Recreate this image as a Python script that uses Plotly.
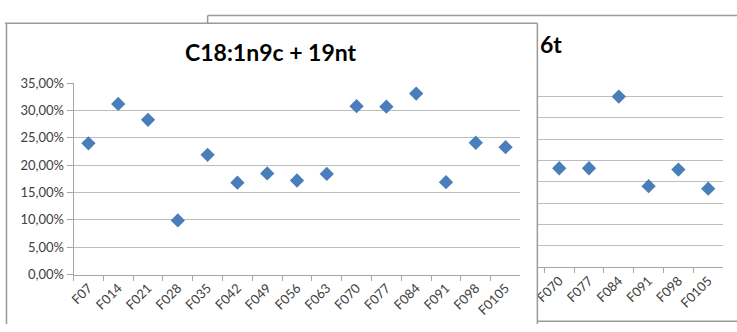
import plotly.graph_objects as go

W, H = 737, 332

categories = ["F07", "F014", "F021", "F028", "F035", "F042", "F049", "F056",
              "F063", "F070", "F077", "F084", "F091", "F098", "F0105"]
front_values = [0.240, 0.312, 0.283, 0.099, 0.219, 0.168, 0.185, 0.172,
                0.184, 0.308, 0.307, 0.331, 0.169, 0.241, 0.233]
front_title = "C18:1n9c + 19nt"

back_categories = ["F070", "F077", "F084", "F091", "F098", "F0105"]
back_values = [0.0232, 0.0232, 0.0400, 0.0190, 0.0229, 0.0184]
back_title = "6t"

def px(x):
    return x / W

def py(y):
    return 1 - y / H

marker = dict(symbol="diamond", size=11, color="#4a7ebb")
font_family = "Lato, Carlito, Calibri, sans-serif"

fig = go.Figure()
fig.add_trace(go.Scatter(x=categories, y=front_values, mode="markers",
                         marker=marker, xaxis="x", yaxis="y", showlegend=False))
fig.add_trace(go.Scatter(x=back_categories, y=back_values, mode="markers",
                         marker=marker, xaxis="x2", yaxis="y2", showlegend=False))

grid = "#bdbdbd"
axis_line = "#a6a6a6"
tickfont = dict(family=font_family, size=13, color="#404040")

fig.update_layout(
    width=W, height=H,
    margin=dict(l=0, r=0, t=0, b=0),
    paper_bgcolor="white", plot_bgcolor="white",
    separators=", ",
    xaxis=dict(domain=[px(69), px(519)], anchor="y", type="category",
               categoryorder="array", categoryarray=categories,
               range=[-0.5, 14.5], tickson="boundaries", ticks="outside",
               ticklen=5, tickcolor=axis_line, showline=True, linecolor=axis_line,
               showgrid=False, tickangle=-45, tickfont=tickfont, fixedrange=True),
    yaxis=dict(domain=[py(280), py(79)], anchor="x", range=[0, 0.35],
               dtick=0.05, tickformat=".2%", ticks="outside", ticklen=6,
               tickcolor=axis_line, showline=True, linecolor=axis_line,
               gridcolor=grid, gridwidth=1, zeroline=False,
               tickfont=tickfont, fixedrange=True),
    xaxis2=dict(domain=[px(537), px(723)], anchor="y2", type="category",
                categoryorder="array", categoryarray=categories,
                range=[8.3, 14.5], tickson="boundaries", ticks="outside",
                ticklen=5, tickcolor=axis_line, showline=True, linecolor=axis_line,
                showgrid=False, tickangle=-45, tickfont=tickfont, fixedrange=True),
    yaxis2=dict(domain=[py(272.3), py(70.7)], anchor="x2", range=[0, 0.045],
                dtick=0.005, showticklabels=False, ticks="",
                showline=False, gridcolor=grid, gridwidth=1, zeroline=False,
                fixedrange=True),
)

border = dict(color="#9a9a9a", width=1.5)
lines = [
    (0, 16, 536, 16),
    (1.5, 16, 1.5, 332),
    (536, 16, 536, 332),
    (204, 8, 737, 8),
    (204, 8, 204, 16),
    (536, 329, 737, 329),
]
for x0, y0, x1, y1 in lines:
    fig.add_shape(type="line", xref="paper", yref="paper",
                  x0=px(x0), y0=py(y0), x1=px(x1), y1=py(y1), line=border)

fig.add_annotation(text=front_title, xref="paper", yref="paper",
                   x=px(268), y=py(46), xanchor="center", yanchor="middle",
                   showarrow=False,
                   font=dict(family=font_family, size=23, color="black", weight="bold"))
fig.add_annotation(text=back_title, xref="paper", yref="paper",
                   x=px(537), y=py(38), xanchor="left", yanchor="middle",
                   showarrow=False,
                   font=dict(family=font_family, size=23, color="black", weight="bold"))

fig.write_html("out.html", config={"displayModeBar": False},
               post_script="document.body.style.margin='0';"
                           "document.body.style.overflow='hidden';")
